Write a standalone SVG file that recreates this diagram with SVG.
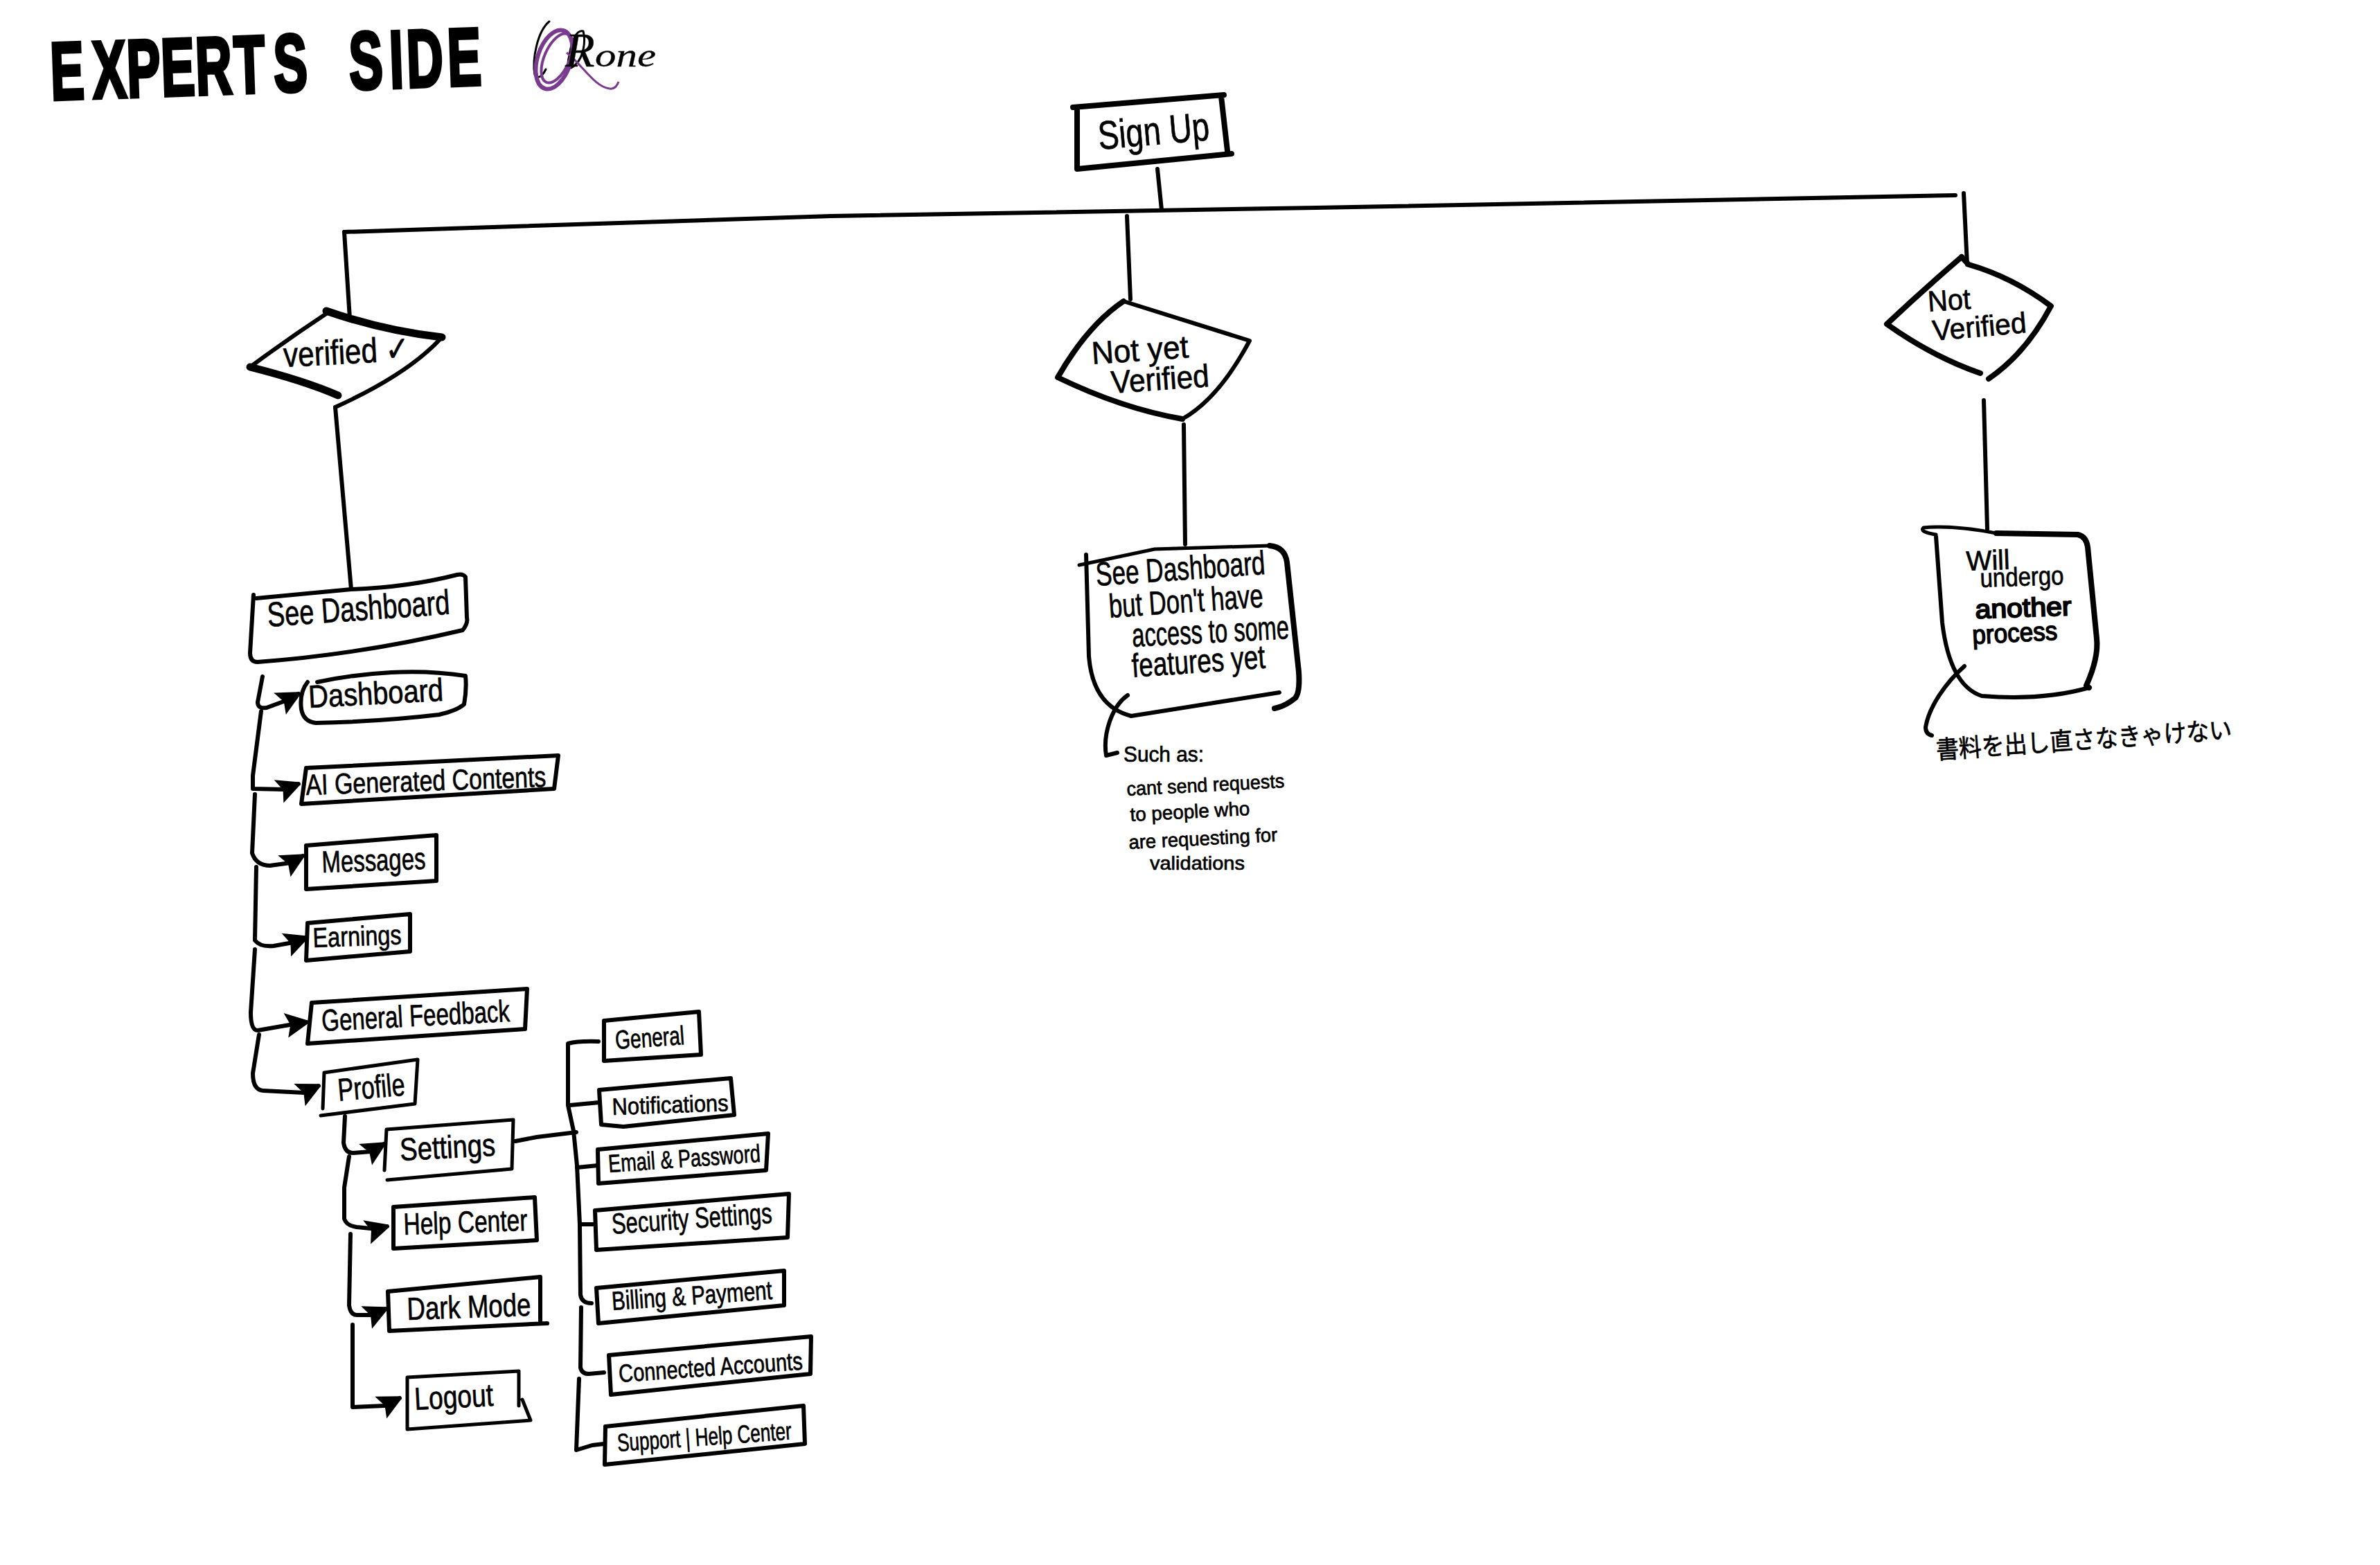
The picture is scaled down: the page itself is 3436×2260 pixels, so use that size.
<svg xmlns="http://www.w3.org/2000/svg" width="3436" height="2260" viewBox="0 0 3436 2260">
<style>
.s{fill:none;stroke:#000;stroke-width:6;stroke-linecap:round;stroke-linejoin:round}
.m{stroke-width:8}
.h{stroke-width:11}
.t{stroke-width:5}
text{font-family:"Liberation Sans","Noto Sans",sans-serif;fill:#000;stroke:#000;stroke-width:.7}
.jp{font-family:"Noto Sans CJK JP","Liberation Sans",sans-serif}
.c{fill:none;stroke:#000;stroke-width:6;stroke-linecap:round;stroke-linejoin:round}
.a{marker-end:url(#ah)}
</style>
<defs>
<marker id="ah" markerUnits="userSpaceOnUse" markerWidth="36" markerHeight="38" refX="33" refY="19" orient="auto">
<path d="M2,1 L33,16 L33,22 L3,37 L9,19 Z" fill="#000"/>
</marker>
</defs>
<rect width="3436" height="2260" fill="#fff"/>

<g id="title"><text transform="rotate(-2 74 144) translate(74 144) scale(.62 1)" x="0 98 178 258 338 428 520 640 696 790 830 925" y="0" font-size="118" font-weight="700" style="stroke-width:5">EXPERTS SIDE</text></g>
<g id="signature">
<path class="s t" style="stroke-width:3" d="M793,31 C776,45 768,85 772,108 C776,114 782,112 788,100 M842,45 C832,42 825,60 822,80 C818,95 820,105 832,92 C842,82 846,60 842,45"/>
<ellipse cx="800" cy="86" rx="24" ry="44" transform="rotate(18 800 86)" fill="none" stroke="#7a3a8f" stroke-width="6"/>
<ellipse cx="804" cy="84" rx="18" ry="38" transform="rotate(24 804 84)" fill="none" stroke="#7a3a8f" stroke-width="4"/>
<path d="M818,76 C842,95 858,125 880,128 C887,129 891,124 893,118" fill="none" stroke="#7a3a8f" stroke-width="3"/>
<text y="96" style="font-family:'Liberation Serif',serif;font-style:italic;stroke-width:.3"><tspan x="816" font-size="70">R</tspan><tspan x="859" font-size="48" textLength="88" lengthAdjust="spacingAndGlyphs">one</tspan></text>
</g>

<g id="connectors">
<path class="c m" d="M1671,244 L1677,303"/>
<path class="c" d="M497,335 L1200,312 L1900,300 L2823,282"/>
<path class="c" d="M497,335 L505,460"/>
<path class="c m" d="M1627,312 L1632,432"/>
<path class="c" d="M2835,279 L2840,382"/>
<path class="c" d="M484,588 L507,851"/>
<path class="c m" d="M1709,613 L1711,786"/>
<path class="c" d="M2864,578 L2869,764"/>
<path class="c t" d="M1628,1004 C1605,1020 1592,1060 1597,1091 L1613,1087"/>
<path class="c t" d="M2836,962 C2810,985 2785,1020 2780,1050 Q2780,1060 2789,1062"/>
<path class="c a" d="M379,977 L372,1014 Q372,1024 385,1022 L412,1012 L431,1002"/>
<path class="c a" d="M377,1027 L365,1120 L365,1139 L410,1140 L431,1132"/>
<path class="c a" d="M368,1147 L364,1232 Q370,1250 390,1250 L419,1246 L437,1236"/>
<path class="c a" d="M370,1252 L368,1358 Q376,1368 395,1366 L423,1361 L442,1354"/>
<path class="c a" d="M368,1371 L362,1462 Q362,1488 372,1488 L418,1480 L443,1476"/>
<path class="c a" d="M374,1494 L365,1550 Q365,1574 380,1575 L439,1578 L460,1568"/>
<path class="c a" d="M498,1612 L496,1650 Q498,1665 510,1665 L535,1663 L554,1652"/>
<path class="c a" d="M504,1670 L497,1715 L497,1760 Q500,1770 515,1772 L545,1775 L559,1771"/>
<path class="c t a" d="M506,1782 L504,1885 Q506,1899 515,1899 L537,1899 L557,1890"/>
<path class="c t a" d="M509,1913 L509,2032 L555,2030 L577,2019"/>
<path class="c t" d="M744,1648 L775,1642 L832,1635"/>
<path class="c t" d="M864,1504 Q835,1503 820,1507 L820,1596 L828,1633 L833,1683 L837,1768 L838,1870 Q840,1882 854,1882"/>
<path class="c t" d="M823,1596 L865,1592"/>
<path class="c t" d="M833,1686 L863,1683"/>
<path class="c" d="M837,1768 L859,1768"/>
<path class="c t" d="M839,1888 L838,1975 Q840,1984 850,1984 L872,1982"/>
<path class="c t" d="M836,1991 L832,2094 L855,2087 L872,2085"/>
</g>

<g id="sign-up">
<path class="s m" d="M1549,155 L1767,137 M1555,159 L1555,244 L1778,222 M1763,139 L1772,218"/>
<text x="1587" y="216" font-size="58" textLength="161" lengthAdjust="spacingAndGlyphs" transform="rotate(-5 1587 216)">Sign Up</text>
</g>

<g id="verified">
<path class="s h" d="M471,449 Q555,478 638,487"/>
<path class="s" d="M471,453 Q415,490 361,530"/>
<path class="s h" d="M361,530 Q440,550 488,571"/>
<path class="s" d="M638,487 Q590,540 484,588"/>
<text x="410" y="530" font-size="50" textLength="183" lengthAdjust="spacingAndGlyphs" transform="rotate(-3 410 530)">verified ✓</text>
</g>

<g id="not-yet-verified">
<path class="s" d="M1622,435 L1804,492 Q1760,575 1707,605"/>
<path class="s m" d="M1622,435 Q1570,470 1527,545 Q1620,590 1707,605"/>
<text x="1577" y="526" font-size="46" textLength="140" lengthAdjust="spacingAndGlyphs" transform="rotate(-4 1577 526)">Not yet</text>
<text x="1605" y="568" font-size="46" textLength="142" lengthAdjust="spacingAndGlyphs" transform="rotate(-4 1605 568)">Verified</text>
</g>

<g id="not-verified">
<path class="s m" d="M2832,371 L2842,382 Q2905,400 2961,442 Q2925,510 2871,547"/>
<path class="s m" d="M2832,371 Q2775,420 2724,468 Q2790,515 2859,539"/>
<text x="2784" y="450" font-size="42" textLength="62" lengthAdjust="spacingAndGlyphs" transform="rotate(-4 2784 450)">Not</text>
<text x="2791" y="492" font-size="42" textLength="136" lengthAdjust="spacingAndGlyphs" transform="rotate(-5 2791 492)">Verified</text>
</g>

<g id="see-dashboard">
<path class="s" d="M366,859 L361,943 Q361,956 372,956 Q520,945 668,910 Q676,900 674,892 L672,833 Q668,828 660,830 Q590,848 507,851 L370,864"/>
<text x="387" y="905" font-size="50" textLength="264" lengthAdjust="spacingAndGlyphs" transform="rotate(-4 387 905)">See Dashboard</text>
</g>

<g id="see-dashboard-limited">
<path class="s t" d="M1558,816 L1667,793 L1833,788"/>
<path class="s m" d="M1833,788 Q1855,790 1858,812 L1875,970 Q1877,1000 1870,1008 Q1855,1020 1840,1023"/>
<path class="s" d="M1568,801 L1572,948 Q1578,1020 1633,1034 L1847,1000"/>
<text x="1583" y="846" font-size="48" textLength="245" lengthAdjust="spacingAndGlyphs" transform="rotate(-4 1583 846)">See Dashboard</text>
<text x="1602" y="892" font-size="48" textLength="223" lengthAdjust="spacingAndGlyphs" transform="rotate(-4 1602 892)">but Don't have</text>
<text x="1635" y="934" font-size="48" textLength="227" lengthAdjust="spacingAndGlyphs" transform="rotate(-3 1635 934)">access to some</text>
<text x="1635" y="978" font-size="48" textLength="193" lengthAdjust="spacingAndGlyphs" transform="rotate(-4 1635 978)">features yet</text>
</g>
<g id="such-as">
<text x="1622" y="1100" font-size="32" textLength="116" lengthAdjust="spacingAndGlyphs">Such as:</text>
<text x="1627" y="1149" font-size="28" textLength="228" lengthAdjust="spacingAndGlyphs" transform="rotate(-3 1627 1149)">cant send requests</text>
<text x="1632" y="1186" font-size="28" textLength="173" lengthAdjust="spacingAndGlyphs" transform="rotate(-3 1632 1186)">to people who</text>
<text x="1630" y="1226" font-size="28" textLength="215" lengthAdjust="spacingAndGlyphs" transform="rotate(-3 1630 1226)">are requesting for</text>
<text x="1660" y="1256" font-size="28" textLength="137" lengthAdjust="spacingAndGlyphs">validations</text>
</g>

<g id="will-undergo">
<path class="s t" d="M2795,772 Q2770,768 2777,762 Q2820,758 2882,770"/>
<path class="s" d="M2795,775 L2804,899 Q2815,990 2861,1005 Q2950,1012 3016,993"/>
<path class="s m" d="M2882,770 L3000,772 Q3012,775 3014,790 L3027,922 Q3030,950 3012,990 L3016,993"/>
<text x="2839" y="824" font-size="40" textLength="63" lengthAdjust="spacingAndGlyphs" transform="rotate(-2 2839 824)">Will</text>
<text x="2859" y="848" font-size="38" textLength="121" lengthAdjust="spacingAndGlyphs" transform="rotate(-2 2859 848)">undergo</text>
<text x="2852" y="893" font-size="38" textLength="139" lengthAdjust="spacingAndGlyphs" style="stroke-width:2" transform="rotate(-2 2852 893)">another</text>
<text x="2848" y="930" font-size="38" textLength="123" lengthAdjust="spacingAndGlyphs" style="stroke-width:1.5" transform="rotate(-3 2848 930)">process</text>
</g>
<g id="resubmit-note">
<text class="jp" x="2796" y="1096" font-size="36" textLength="428" lengthAdjust="spacingAndGlyphs" transform="rotate(-4 2796 1096)">書料を出し直さなきゃけない</text>
</g>

<g id="dashboard">
<path class="s" d="M444,985 Q432,1000 435,1024 Q438,1042 456,1044 Q550,1042 634,1032 Q660,1026 670,1017 Q674,995 672,976 Q620,968 565,971 Q510,974 458,985"/>
<text x="446" y="1022" font-size="46" textLength="195" lengthAdjust="spacingAndGlyphs" transform="rotate(-3 446 1022)">Dashboard</text>
</g>
<g id="ai-generated-contents">
<path class="s" d="M442,1109 L435,1161 L800,1139 L806,1091 L442,1109"/>
<text x="442" y="1148" font-size="42" textLength="347" lengthAdjust="spacingAndGlyphs" transform="rotate(-2 442 1148)">AI Generated Contents</text>
</g>
<g id="messages">
<path class="s" d="M442,1221 L442,1284 L630,1272 L630,1206 L442,1221"/>
<text x="465" y="1260" font-size="44" textLength="150" lengthAdjust="spacingAndGlyphs" transform="rotate(-2 465 1260)">Messages</text>
</g>
<g id="earnings">
<path class="s" d="M444,1333 L442,1387 L592,1374 L592,1320 L444,1333"/>
<text x="452" y="1368" font-size="40" textLength="128" lengthAdjust="spacingAndGlyphs" transform="rotate(-2 452 1368)">Earnings</text>
</g>
<g id="general-feedback">
<path class="s" d="M450,1448 L444,1507 L758,1486 L761,1428 L450,1448"/>
<text x="465" y="1489" font-size="44" textLength="272" lengthAdjust="spacingAndGlyphs" transform="rotate(-3 465 1489)">General Feedback</text>
</g>
<g id="profile">
<path class="s t" d="M468,1549 L466,1601 M463,1611 L599,1594 L603,1530 L468,1549"/>
<text x="489" y="1590" font-size="46" textLength="97" lengthAdjust="spacingAndGlyphs" transform="rotate(-5 489 1590)">Profile</text>
</g>
<g id="settings">
<path class="s t" d="M558,1631 L555,1690 M559,1704 L739,1688 L741,1617 L558,1631"/>
<text x="578" y="1676" font-size="46" textLength="138" lengthAdjust="spacingAndGlyphs" transform="rotate(-3 578 1676)">Settings</text>
</g>
<g id="help-center">
<path class="s" d="M568,1743 L568,1803 L775,1791 L772,1729 L568,1743"/>
<text x="583" y="1783" font-size="44" textLength="179" lengthAdjust="spacingAndGlyphs" transform="rotate(-2 583 1783)">Help Center</text>
</g>
<g id="dark-mode">
<path class="s" d="M560,1865 L562,1922 L790,1911 M780,1908 L780,1844 L560,1865"/>
<text x="588" y="1906" font-size="46" textLength="179" lengthAdjust="spacingAndGlyphs" transform="rotate(-2 588 1906)">Dark Mode</text>
</g>
<g id="logout">
<path class="s t" d="M588,1989 L588,2064 L766,2051 L754,2021 M749,2030 L749,1980 L588,1989"/>
<text x="599" y="2036" font-size="46" textLength="114" lengthAdjust="spacingAndGlyphs" transform="rotate(-3 599 2036)">Logout</text>
</g>
<g id="general">
<path class="s" d="M872,1474 L872,1532 L1012,1523 L1009,1461 L872,1474"/>
<text x="889" y="1515" font-size="38" textLength="100" lengthAdjust="spacingAndGlyphs" transform="rotate(-4 889 1515)">General</text>
</g>
<g id="notifications">
<path class="s" d="M865,1574 L868,1624 L900,1627 L1060,1610 L1055,1557 L865,1574"/>
<text x="884" y="1610" font-size="34" textLength="168" lengthAdjust="spacingAndGlyphs" transform="rotate(-2 884 1610)">Notifications</text>
</g>
<g id="email-password">
<path class="s" d="M863,1660 L864,1709 L1106,1690 L1109,1637 L863,1660"/>
<text x="879" y="1693" font-size="36" textLength="220" lengthAdjust="spacingAndGlyphs" transform="rotate(-4 879 1693)">Email &amp; Password</text>
</g>
<g id="security-settings">
<path class="s" d="M859,1748 L861,1805 L1137,1787 L1139,1724 L859,1748"/>
<text x="884" y="1782" font-size="42" textLength="232" lengthAdjust="spacingAndGlyphs" transform="rotate(-4 884 1782)">Security Settings</text>
</g>
<g id="billing-payment">
<path class="s" d="M861,1860 L864,1911 L1132,1885 L1132,1835 L861,1860"/>
<text x="884" y="1892" font-size="38" textLength="232" lengthAdjust="spacingAndGlyphs" transform="rotate(-4 884 1892)">Billing &amp; Payment</text>
</g>
<g id="connected-accounts">
<path class="s" d="M879,1957 L882,2014 L1170,1984 L1171,1930 L879,1957"/>
<text x="894" y="1996" font-size="36" textLength="266" lengthAdjust="spacingAndGlyphs" transform="rotate(-4 894 1996)">Connected Accounts</text>
</g>
<g id="support-help-center">
<path class="s" d="M874,2060 L873,2115 L1162,2085 L1160,2030 L874,2060"/>
<text x="892" y="2096" font-size="36" textLength="252" lengthAdjust="spacingAndGlyphs" transform="rotate(-4 892 2096)">Support | Help Center</text>
</g>
</svg>
